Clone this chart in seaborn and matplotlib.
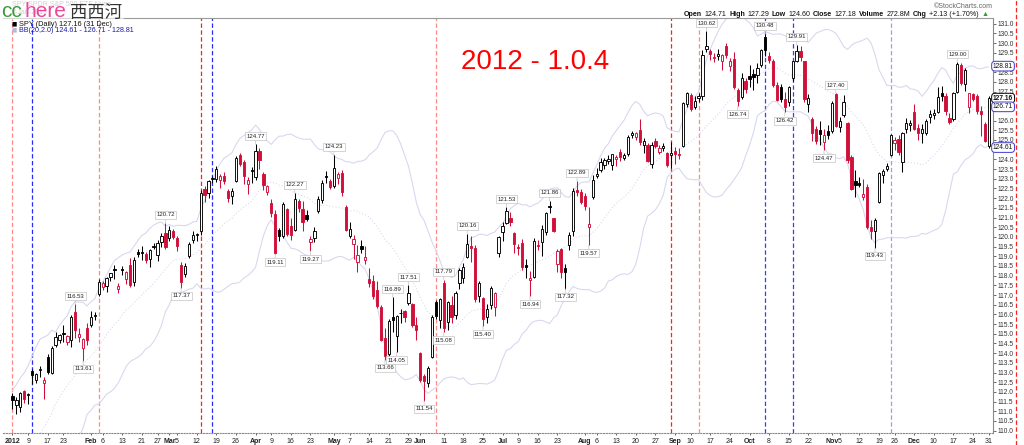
import numpy as np
import pandas as pd
import matplotlib
matplotlib.use("Agg")
import matplotlib.pyplot as plt
import matplotlib.transforms as mtransforms
from matplotlib.lines import Line2D
from matplotlib.patches import Rectangle
import seaborn as sns

# --- values (SPY daily 2012) ---
# last 19 closes of Dec 2011, only used to start the 20-day bands
prior_closes = [109.62, 109.74, 109.96, 107.64, 109.45, 107.82, 106.88, 105.67, 106.01, 106.35,
                105.11, 108.24, 108.45, 109.35, 110.34, 110.35, 108.97, 110.13, 109.66]

opens = [
    # Jan
    111.80, 111.30, 111.20, 112.05, 111.85, 113.10, 112.60, 113.15, 112.45, 113.80, 113.00, 114.40, 114.70, 115.00, 114.60, 114.70, 116.10, 114.85, 114.25, 115.30,
    # Feb
    115.45, 115.90, 117.05, 117.40, 117.45, 117.95, 118.35, 117.30, 118.30, 117.85, 118.55, 117.65, 119.20, 119.20, 119.10, 118.85, 119.55, 119.05, 119.75, 120.20,
    # Mar
    119.95, 120.30, 119.95, 118.55, 118.10, 119.00, 119.85, 120.10, 120.30, 122.45, 122.25, 123.00, 123.00, 122.95, 123.15, 122.35, 122.10, 122.90, 124.20, 123.85, 122.75, 123.45,
    # Apr
    123.10, 124.45, 123.25, 122.30, 121.75, 121.20, 120.35, 120.05, 121.45, 120.55, 120.35, 121.85, 121.45, 121.15, 119.75, 119.95, 121.35, 121.90, 123.15, 122.90,
    # May
    122.65, 123.05, 123.30, 121.55, 120.05, 119.65, 118.70, 119.55, 118.80, 117.85, 117.70, 117.25, 116.40, 114.80, 113.95, 115.85, 114.90, 116.05, 116.15, 116.60, 116.55, 115.45,
    # Jun
    114.00, 112.80, 112.45, 113.80, 116.65, 115.70, 117.60, 115.60, 116.50, 115.95, 117.60, 117.90, 118.95, 119.55, 119.45, 116.95, 116.85, 115.85, 116.50, 116.40, 119.15,
    # Jul
    120.25, 120.70, 120.95, 120.20, 119.45, 119.70, 118.55, 117.75, 117.95, 119.60, 119.75, 120.25, 121.60, 120.95, 118.60, 119.35, 118.40, 119.60, 120.30, 122.40, 122.30,
    # Aug
    122.10, 120.50, 122.05, 123.15, 123.45, 123.70, 123.90, 123.70, 124.00, 124.40, 124.05, 124.30, 125.25, 125.15, 125.50, 124.75, 124.75, 123.75, 124.95, 124.40, 124.60, 124.35, 124.20,
    # Sep
    124.45, 124.30, 124.70, 126.85, 127.30, 126.70, 127.15, 127.25, 129.70, 129.60, 129.25, 129.35, 129.05, 129.85, 128.80, 129.20, 127.60, 127.20, 128.05,
    # Oct
    128.30, 128.40, 128.35, 128.85, 130.30, 129.35, 129.10, 127.85, 127.75, 127.10, 126.95, 128.20, 129.10, 129.60, 129.05, 126.85, 126.10, 125.55, 125.50, 124.90, 125.45,
    # Nov
    125.45, 127.35, 125.65, 126.30, 125.90, 124.10, 122.90, 122.80, 122.05, 122.55, 120.50, 120.30, 121.80, 123.20, 123.50, 124.20, 124.85, 125.05, 123.85, 125.55, 125.75,
    # Dec
    126.45, 125.60, 125.35, 125.35, 126.20, 126.30, 126.45, 127.45, 127.25, 126.15, 126.10, 127.50, 128.85, 127.90, 126.70, 127.35, 127.25, 126.50, 125.85, 124.71,
]

highs = [
    111.95, 111.75, 112.00, 112.10, 111.95, 113.20, 113.00, 113.35, 112.75, 113.95, 114.35, 115.10, 114.98, 115.45, 114.95, 115.95, 116.53, 115.30, 114.80, 115.55,
    116.20, 116.10, 117.85, 117.70, 117.95, 118.15, 118.55, 117.60, 118.50, 118.25, 118.91, 118.95, 119.40, 119.55, 119.20, 119.40, 119.70, 119.85, 120.20, 120.72,
    120.55, 120.40, 120.05, 118.70, 118.65, 119.75, 120.30, 120.20, 122.40, 122.60, 122.95, 123.15, 123.65, 123.25, 123.35, 122.45, 122.50, 124.15, 124.35, 123.95, 123.10, 123.60,
    124.77, 124.60, 123.35, 122.70, 121.95, 121.40, 120.45, 121.80, 121.50, 120.95, 122.27, 121.95, 121.85, 121.40, 120.05, 120.50, 122.10, 122.95, 123.40, 123.00,
    124.23, 123.35, 123.45, 121.65, 120.75, 120.10, 119.60, 119.85, 119.55, 118.40, 118.05, 117.70, 116.50, 115.30, 115.75, 116.89, 115.98, 116.30, 116.25, 117.51, 116.60, 115.85,
    114.05, 112.95, 113.35, 115.95, 116.75, 116.85, 117.79, 116.70, 116.95, 117.20, 118.40, 118.65, 120.16, 120.05, 119.60, 117.70, 116.90, 116.55, 117.45, 117.15, 120.05,
    120.75, 121.53, 121.30, 120.25, 119.65, 119.90, 118.85, 118.25, 119.95, 119.85, 120.60, 121.30, 121.86, 121.00, 119.40, 119.45, 118.60, 120.25, 122.50, 122.89, 122.45,
    122.25, 121.55, 123.20, 123.55, 124.05, 124.05, 124.20, 124.30, 124.20, 124.55, 124.35, 125.25, 125.45, 125.40, 126.10, 125.10, 124.85, 124.90, 125.10, 124.75, 124.85, 124.40, 124.90,
    124.65, 124.60, 126.95, 127.50, 127.40, 127.25, 127.45, 129.65, 130.62, 129.70, 129.50, 129.70, 129.45, 129.98, 129.25, 129.55, 127.70, 128.45, 128.20,
    128.85, 128.65, 128.95, 129.70, 130.48, 129.55, 129.20, 128.00, 127.90, 127.50, 127.80, 129.10, 129.91, 129.85, 129.10, 127.35, 126.20, 125.70, 126.00, 125.55, 125.75,
    127.00, 127.40, 126.20, 127.30, 125.95, 124.25, 123.45, 123.10, 123.00, 122.75, 120.85, 121.00, 123.35, 123.50, 123.80, 125.30, 125.15, 125.25, 125.40, 126.15, 126.05,
    126.85, 125.80, 125.80, 126.10, 126.55, 126.60, 127.75, 127.80, 127.40, 126.40, 127.50, 129.00, 128.95, 128.70, 127.45, 127.40, 127.35, 126.75, 125.95, 127.29,
]

lows = [
    111.10, 110.85, 110.95, 111.45, 111.40, 112.40, 112.45, 112.75, 111.65, 112.95, 112.90, 114.30, 114.50, 114.60, 114.40, 114.30, 114.80, 114.55, 113.61, 114.40,
    115.35, 115.70, 116.95, 117.25, 117.15, 117.70, 117.85, 117.10, 118.05, 117.55, 117.40, 117.45, 118.95, 118.80, 118.65, 118.45, 119.35, 118.75, 119.50, 119.40,
    119.80, 119.90, 119.25, 117.37, 117.95, 118.90, 119.70, 119.80, 120.10, 121.80, 122.00, 122.80, 122.85, 122.50, 122.75, 121.80, 121.70, 122.85, 123.65, 122.75, 122.20, 122.80,
    122.95, 123.50, 122.40, 122.15, 121.05, 119.11, 119.80, 119.95, 120.05, 119.85, 120.30, 121.30, 120.30, 120.80, 119.27, 119.75, 121.25, 121.75, 122.80, 122.45,
    122.50, 122.75, 122.10, 120.30, 119.95, 118.85, 118.20, 119.15, 118.60, 117.40, 116.80, 116.35, 114.65, 113.66, 113.85, 115.10, 114.05, 115.55, 115.60, 116.50, 115.35, 114.70,
    112.50, 111.54, 112.25, 113.75, 115.75, 115.30, 115.08, 115.20, 115.55, 115.75, 117.30, 117.60, 118.90, 118.70, 116.65, 116.65, 115.40, 115.55, 116.30, 115.90, 118.95,
    119.80, 120.65, 120.55, 119.15, 119.05, 118.30, 117.90, 116.94, 117.90, 119.30, 119.00, 120.10, 121.25, 120.25, 118.20, 117.90, 117.32, 119.30, 120.05, 122.10, 121.70,
    121.40, 119.57, 121.95, 123.05, 123.35, 123.50, 123.75, 123.45, 123.65, 123.90, 123.95, 124.15, 125.10, 125.00, 124.75, 124.35, 123.85, 123.55, 124.60, 124.30, 124.45, 123.60, 123.55,
    123.75, 124.00, 124.65, 126.70, 126.50, 126.60, 126.95, 127.05, 129.55, 129.15, 129.00, 129.15, 128.60, 129.25, 128.55, 127.65, 126.74, 127.10, 127.40,
    127.75, 127.60, 127.95, 128.75, 129.35, 128.95, 127.75, 127.00, 126.95, 126.42, 126.75, 128.05, 129.00, 129.05, 126.95, 126.45, 124.95, 124.80, 124.75, 124.47, 125.05,
    125.35, 125.65, 125.40, 126.20, 123.80, 122.40, 122.05, 122.55, 121.90, 120.40, 119.90, 119.43, 121.75, 122.80, 123.40, 124.15, 124.50, 124.20, 123.35, 125.35, 125.45,
    125.50, 125.00, 124.85, 125.25, 125.90, 126.10, 126.40, 127.00, 126.30, 125.80, 126.00, 127.45, 127.85, 127.55, 126.40, 127.00, 126.35, 125.20, 124.90, 124.60,
]

closes = [
    111.58, 111.60, 111.93, 111.64, 111.89, 112.89, 112.92, 113.19, 112.63, 113.03, 114.28, 114.85, 114.93, 114.98, 114.86, 115.86, 115.19, 115.01, 114.72, 114.66,
    115.86, 115.98, 117.68, 117.63, 117.87, 118.12, 118.30, 117.48, 118.28, 118.17, 117.53, 118.83, 119.11, 119.19, 118.79, 119.30, 119.50, 119.66, 120.07, 119.50,
    120.37, 119.98, 119.52, 117.68, 118.49, 119.65, 120.09, 120.11, 122.29, 122.14, 122.87, 123.01, 123.49, 123.12, 122.89, 122.01, 122.39, 124.09, 123.74, 123.13, 122.93, 123.38,
    124.45, 123.95, 122.69, 122.61, 121.22, 119.15, 120.04, 121.69, 120.17, 120.11, 121.97, 121.48, 120.76, 120.90, 119.88, 120.32, 121.96, 122.78, 123.07, 122.59,
    123.57, 123.26, 122.32, 120.34, 120.39, 119.87, 119.07, 119.37, 118.96, 117.64, 116.97, 116.45, 114.70, 113.85, 115.68, 115.73, 115.93, 116.09, 115.84, 117.12, 115.44, 115.18,
    112.60, 112.55, 113.25, 115.86, 115.90, 116.79, 115.32, 116.66, 115.84, 117.09, 118.30, 118.47, 119.64, 119.44, 116.78, 117.61, 115.74, 116.29, 117.34, 117.09, 120.01,
    120.57, 121.33, 120.76, 119.62, 119.42, 118.45, 118.47, 117.86, 119.80, 119.53, 120.41, 121.22, 121.55, 120.32, 119.25, 118.17, 118.20, 120.09, 122.38, 122.32, 121.79,
    121.58, 120.67, 122.96, 123.25, 123.88, 123.96, 124.01, 124.28, 124.12, 124.11, 124.25, 125.13, 125.37, 125.36, 124.92, 124.95, 123.94, 124.74, 124.68, 124.58, 124.69, 123.71, 124.34,
    124.30, 124.25, 126.89, 127.40, 126.62, 127.01, 127.28, 129.36, 129.87, 129.46, 129.30, 129.45, 129.38, 129.37, 129.08, 127.72, 126.99, 128.22, 127.64,
    128.13, 128.24, 128.70, 129.63, 129.65, 129.14, 127.86, 127.07, 127.09, 126.72, 127.74, 129.05, 129.58, 129.27, 127.12, 127.18, 125.34, 124.96, 125.33, 125.24, 125.26,
    126.91, 125.72, 125.99, 126.98, 123.97, 122.46, 122.67, 122.69, 122.20, 120.50, 120.31, 120.89, 123.29, 123.38, 123.66, 125.27, 125.02, 124.37, 125.34, 125.88, 125.90,
    125.58, 125.37, 125.57, 125.98, 126.35, 126.39, 127.22, 127.28, 126.47, 125.95, 127.44, 128.91, 127.93, 128.63, 127.43, 127.12, 126.51, 126.35, 124.96, 127.16,
]

# trading-day index of the date labels on the x axis
tick_days = [0, 4, 9, 13, 20, 23, 28, 33, 37, 40, 42, 47, 52, 57, 62, 66, 71, 76, 82, 86, 91, 96, 101,
             104, 110, 115, 120, 125, 129, 134, 139, 146, 149, 154, 159, 164, 169, 173, 178, 183,
             188, 193, 198, 203, 209, 211, 216, 221, 225, 230, 235, 240, 245, 249]
tick_text = ['2012', '9', '17', '23', 'Feb', '6', '13', '21', '27', 'Mar', '5', '12', '19', '26',
             'Apr', '9', '16', '23', 'May', '7', '14', '21', '29', 'Jun', '11', '18', '25',
             'Jul', '9', '16', '23', 'Aug', '6', '13', '20', '27', 'Sep', '10', '17', '24',
             'Oct', '8', '15', '22', 'Nov', '5', '12', '19', '26', 'Dec', '10', '17', '24', '31']
month_names = {'2012', 'Feb', 'Mar', 'Apr', 'May', 'Jun', 'Jul', 'Aug', 'Sep', 'Oct', 'Nov', 'Dec'}

# labelled swing highs (H) and lows (L)
swings = [(16, 'H'), (18, 'L'), (39, 'H'), (43, 'L'), (62, 'H'), (67, 'L'), (72, 'H'), (76, 'L'),
          (82, 'H'), (95, 'L'), (97, 'H'), (98, 'L'), (101, 'H'), (105, 'L'), (110, 'H'), (110, 'L'),
          (116, 'H'), (120, 'L'), (126, 'H'), (132, 'L'), (137, 'H'), (141, 'L'), (144, 'H'), (147, 'L'),
          (177, 'H'), (185, 'L'), (192, 'H'), (197, 'L'), (200, 'H'), (207, 'L'), (210, 'H'), (220, 'L'),
          (241, 'H')]

# dashed marker lines drawn on the chart: (trading day, colour)
markers = [(0, '#ff8a8a'), (5, '#2a2aff'), (22, '#ff8a8a'), (48, '#ff2020'), (51, '#2a2aff'),
           (108, '#ff8a8a'), (168, '#ff2020'), (175, '#ff8a8a'), (192, '#3a3aff'), (199, '#3a3aff'),
           (224, '#9a9aff')]

# last values shown boxed on the price axis
axis_boxes = [(128.81, '#3a3ac8', 'normal'), (127.16, 'black', 'bold'),
              (126.71, '#3a3ac8', 'normal'), (124.61, '#3a3ac8', 'normal')]
hidden_ticks = {'129.0', '127.0', '126.5', '124.5'}

RED = '#d0103a'
BAND = '#d6d6ee'

# --- derived series ---
o = np.array(opens); h = np.array(highs); l = np.array(lows); c = np.array(closes)
x = np.arange(len(c))
allc = pd.Series(prior_closes + closes)
mid = allc.rolling(20).mean().iloc[len(prior_closes):].to_numpy()
sd = allc.rolling(20).std(ddof=0).iloc[len(prior_closes):].to_numpy()
upper, lower = mid + 2 * sd, mid - 2 * sd

prev = np.r_[prior_closes[-1], c[:-1]]
edge = np.where(c < prev, RED, 'black')
face = np.where(c >= o, 'white', edge)

# --- figure ---
sns.set_theme(style="white")
plt.rcParams['font.family'] = ['Liberation Sans', 'DejaVu Sans']

W, H = 1024, 445
fig = plt.figure(figsize=(W / 100, H / 100), dpi=100)
ax = fig.add_axes([3 / W, (H - 433) / H, 990 / W, (433 - 17.7) / H])

for d, col in markers:
    ax.axvline(d, color=col, lw=0.9, ls=(0, (3.5, 2)), zorder=1)

sns.lineplot(x=x, y=upper, ax=ax, color=BAND, lw=0.75, legend=False, zorder=2)
sns.lineplot(x=x, y=lower, ax=ax, color=BAND, lw=0.75, legend=False, zorder=2)
sns.lineplot(x=x, y=mid, ax=ax, color=BAND, lw=0.75, ls=(0, (1, 2)), legend=False, zorder=2)

ax.vlines(x, l, h, colors=edge, lw=0.75, zorder=3)
ax.bar(x, np.maximum(np.abs(c - o), 0.04), bottom=np.minimum(o, c), width=0.58,
       color=face, edgecolor=edge, linewidth=0.65, zorder=4)

for d, kind in swings:
    if kind == 'H':
        val, off, va = h[d], 4, 'bottom'
    else:
        val, off, va = l[d], -4, 'top'
    ax.annotate(f"{val:.2f}", xy=(d, val), xytext=(0, off), textcoords='offset points',
                ha='center', va=va, fontsize=4.3, color='#222222', zorder=6,
                bbox=dict(boxstyle='square,pad=0.25', fc='white', ec='#c4c4c4', lw=0.5),
                arrowprops=dict(arrowstyle='-', color='#c4c4c4', lw=0.5, shrinkA=0, shrinkB=0))

ax.set_xlim(-2.42, 250.1)
ax.set_ylim(109.88, 131.31)
ax.set_xlabel('')
ax.set_ylabel('')

ax.set_xticks(tick_days)
ax.set_xticklabels(tick_text)
for t in ax.get_xticklabels():
    if t.get_text() in month_names:
        t.set_fontweight('bold')
yt = np.arange(110, 131.01, 0.5)
ax.set_yticks(yt)
ax.set_yticklabels(['' if f"{v:.1f}" in hidden_ticks else f"{v:.1f}" for v in yt])
ax.yaxis.tick_right()
ax.tick_params(axis='y', right=True, left=False, length=2, width=0.5, pad=1,
               labelsize=4.8, colors='#333333')
ax.tick_params(axis='x', bottom=True, length=1.5, width=0.5, pad=2, labelsize=5, colors='#222222')

ax.spines['left'].set_visible(False)
ax.spines['top'].set_color('#9a9a9a')
ax.spines['top'].set_linewidth(0.8)
ax.spines['right'].set_color('#8a8a8a')
ax.spines['right'].set_linewidth(0.8)
ax.spines['bottom'].set_color('#8a8a8a')
ax.spines['bottom'].set_linewidth(0.8)
ax.spines['bottom'].set_linestyle((0, (1, 1.5)))

# boxed current values on the price axis
blend = mtransforms.blended_transform_factory(ax.transAxes, ax.transData)
for val, ec, wt in axis_boxes:
    ax.text(1.0, val, f"{val:.2f}", transform=blend, ha='left', va='center', fontsize=4.8,
            fontweight=wt, color='#111111', zorder=7, clip_on=False,
            bbox=dict(boxstyle='round,pad=0.2,rounding_size=0.5', fc='white', ec=ec, lw=0.7))

# red dashed line beyond the price axis
fig.add_artist(Line2D([1016 / W, 1016 / W], [0, 1], transform=fig.transFigure,
                      color='#ff2020', lw=0.9, ls=(0, (3.5, 2))))


def fx(px):
    return px / W


def fy(py):
    return 1 - py / H


# title
fig.text(fx(535), fy(62), '2012 - 1.0.4', fontsize=20, color='#ff0000', ha='center', va='center')

# legend lines inside the chart, top left
fig.text(fx(12), fy(24), '\u25a0', fontsize=4, color='black', va='center',
         family=['DejaVu Sans'])
fig.text(fx(19), fy(24), 'SPY (Daily) 127.16 (31 Dec)', fontsize=5.3, color='#111111', va='center')
fig.text(fx(12), fy(30), '\u25a0', fontsize=4, color='#b8b8d8', va='center', family=['DejaVu Sans'])
fig.text(fx(19), fy(30), 'BB(20,2.0) 124.61 - 126.71 - 128.81', fontsize=5.1, color='#1a1aa6',
         va='center')

# watermark at the very top left, over a faded title line
fig.text(fx(12), fy(5), 'SPY SPDR S&P 500 ETF Nyse', fontsize=5, color='#cfcfcf', va='center')
fig.text(fx(12), fy(12), '2-Jan-2013', fontsize=5, color='#cfcfcf', va='center')
fig.add_artist(Rectangle((0, fy(19.5)), fx(124), 19.5 / H, transform=fig.transFigure,
                         fc='white', ec='none', alpha=0.6))
fig.text(fx(1), fy(17), 'cc', fontsize=15, color='#3c9a3c', va='baseline')
fig.text(fx(24), fy(17), 'here', fontsize=15, color='#ee4499', va='baseline')
fig.text(fx(70), fy(18), '西西河', fontsize=12.5, color='#333333', va='baseline',
         family=['Noto Sans CJK SC', 'DejaVu Sans'])

# header at the top right
fig.text(fx(993), fy(6), '\u00a9StockCharts.com', fontsize=5, color='#666666', ha='right', va='center')
renderer = fig.canvas.get_renderer()
pieces = [('Open', 'bold', '#111111'), ('124.71', 'normal', '#111111'),
          ('High', 'bold', '#111111'), ('127.29', 'normal', '#111111'),
          ('Low', 'bold', '#111111'), ('124.60', 'normal', '#111111'),
          ('Close', 'bold', '#111111'), ('127.18', 'normal', '#111111'),
          ('Volume', 'bold', '#111111'), ('272.8M', 'normal', '#111111'),
          ('Chg', 'bold', '#111111'), ('+2.13 (+1.70%)', 'normal', '#111111'),
          ('\u25b2', 'normal', '#2e9e2e')]
cursor = 684
for s, wt, col in pieces:
    t = fig.text(fx(cursor), fy(14), s, fontsize=5.1, fontweight=wt, color=col, va='center',
                 family=['Liberation Sans', 'DejaVu Sans'])
    cursor += t.get_window_extent(renderer=renderer).width + 2.5

fig.savefig('out.png', dpi=100)
